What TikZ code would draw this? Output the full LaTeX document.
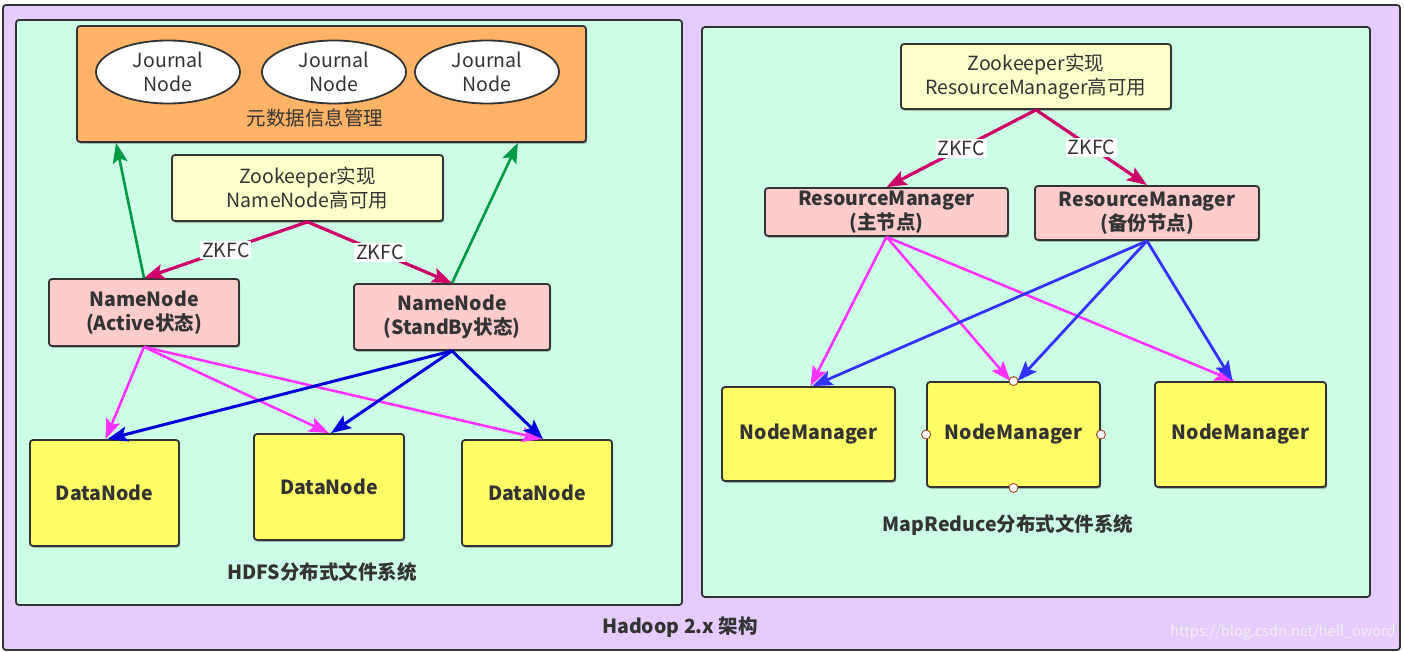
\documentclass[tikz,border=0pt]{standalone}
\usepackage{fontspec}
\setmainfont{Noto Sans CJK SC}
\usetikzlibrary{arrows.meta,shapes.geometric,calc,shadows}
\definecolor{lav}{HTML}{E5CCFF}
\definecolor{mint}{HTML}{CCFFE6}
\definecolor{orng}{HTML}{FFB366}
\definecolor{pinkfill}{HTML}{FFCCCC}
\definecolor{yel}{HTML}{FFFF66}
\definecolor{lyel}{HTML}{FFFFCC}
\definecolor{edge}{HTML}{333333}
\definecolor{txt}{HTML}{333333}
\definecolor{zkc}{HTML}{CC0066}
\definecolor{grn}{HTML}{009944}
\definecolor{mag}{HTML}{FF33FF}
\definecolor{blueL}{HTML}{0000DD}
\definecolor{blueR}{HTML}{3333FF}
\definecolor{handle}{HTML}{A04020}
\tikzset{
  box/.style={draw=edge, line width=1.8pt, rounded corners=3pt, inner sep=0pt,
    text=txt, align=center, font=\fontsize{19.5}{24}\selectfont,
    drop shadow={shadow xshift=1.2pt, shadow yshift=-1.6pt, opacity=0.4, fill=black}},
  bbox/.style={box, font=\bfseries\fontsize{19.5}{24}\selectfont},
  panel/.style={draw=edge, line width=1.8pt, rounded corners=3pt, inner sep=0pt},
  jn/.style={ellipse, draw=edge, line width=1.8pt, fill=white, inner sep=0pt,
    text=txt, align=center, font=\fontsize{19.5}{24}\selectfont,
    minimum width=144pt, minimum height=63pt},
  lbl/.style={text=txt, font=\fontsize{19.5}{24}\selectfont},
  blbl/.style={text=txt, font=\bfseries\fontsize{19.5}{24}\selectfont},
  tip/.style={-{Stealth[length=20pt,width=15pt,inset=4pt]}},
  zkarrow/.style={tip, draw=zkc, fill=zkc, line width=3.2pt},
  grarrow/.style={tip, draw=grn, line width=2.6pt},
  pkarrow/.style={tip, draw=mag, line width=2.6pt},
  blLarrow/.style={tip, draw=blueL, line width=3pt},
  blRarrow/.style={tip, draw=blueR, line width=2.8pt},
  zklabel/.style={fill=white, inner sep=2pt, text=txt, font=\fontsize{19.5}{22}\selectfont},
  hnd/.style={circle, draw=handle, line width=0.9pt, fill=white, inner sep=0pt, minimum size=9pt}
}
\begin{document}
\begin{tikzpicture}[x=1pt,y=-1pt]
\useasboundingbox (0,0) rectangle (1404,652);
\fill[white] (0,0) rectangle (1404,652);
% frames
\node[panel, fill=lav, minimum width=1397pt, minimum height=645pt] (outer) at (701.5,327.5) {};
\node[panel, fill=mint, minimum width=666pt, minimum height=585pt] (hdfs) at (349,312.5) {};
\node[panel, fill=mint, minimum width=668pt, minimum height=570pt] (mr) at (1036,312) {};
% HDFS side
\node[box, fill=orng, minimum width=509pt, minimum height=116pt] (meta) at (331.5,84) {};
\node[jn] (jn1) at (168,72) {Journal\\Node};
\node[jn] (jn2) at (334,72) {Journal\\Node};
\node[jn] (jn3) at (487,72) {Journal\\Node};
\node[lbl] (metal) at (315,118) {元数据信息管理};
\node[box, fill=lyel, minimum width=271pt, minimum height=66pt] (zkl) at (307.5,188) {Zookeeper实现\\NameNode高可用};
\node[bbox, fill=pinkfill, minimum width=190pt, minimum height=67pt] (nna) at (144,312.5) {NameNode\\(Active状态)};
\node[bbox, fill=pinkfill, minimum width=196pt, minimum height=66pt] (nnb) at (452,317) {NameNode\\(StandBy状态)};
\node[bbox, fill=yel, minimum width=149pt, minimum height=106pt] (dn1) at (104.5,493) {DataNode};
\node[bbox, fill=yel, minimum width=150pt, minimum height=106pt] (dn2) at (329,487) {DataNode};
\node[bbox, fill=yel, minimum width=150pt, minimum height=106pt] (dn3) at (537,493) {DataNode};
\node[blbl] (hdfsl) at (322,572) {HDFS分布式文件系统};
% HDFS arrows
\draw[zkarrow] (zkl.south) -- node[zklabel] (zk1) {ZKFC} (nna.north);
\draw[zkarrow] (zkl.south) -- node[zklabel] (zk2) {ZKFC} (nnb.north);
\draw[grarrow] (nna.north) -- ($(meta.south west)+(40,0)$);
\draw[grarrow] (nnb.north) -- ($(meta.south east)+(-69,0)$);
\draw[pkarrow] (nna.south) -- ($(dn1.north)+(1,0)$);
\draw[pkarrow] (nna.south) -- ($(dn2.north)+(0,0)$);
\draw[pkarrow] (nna.south) -- ($(dn3.north)+(5,0)$);
\draw[blLarrow] (nnb.south) -- ($(dn1.north)+(3,0)$);
\draw[blLarrow] (nnb.south) -- ($(dn2.north)+(2,0)$);
\draw[blLarrow] (nnb.south) -- ($(dn3.north)+(6,0)$);
% MapReduce side
\node[box, fill=lyel, minimum width=270pt, minimum height=65pt] (zkr) at (1036,76.5) {Zookeeper实现\\ResourceManager高可用};
\node[bbox, fill=pinkfill, minimum width=243pt, minimum height=48pt] (rmm) at (886.5,212) {ResourceManager\\(主节点)};
\node[bbox, fill=pinkfill, minimum width=224pt, minimum height=54pt] (rmb) at (1147,213) {ResourceManager\\(备份节点)};
\node[bbox, fill=yel, minimum width=173pt, minimum height=94pt] (nm1) at (808.5,434) {NodeManager};
\node[bbox, fill=yel, minimum width=173pt, minimum height=105pt] (nm2) at (1013.5,434.5) {NodeManager};
\node[bbox, fill=yel, minimum width=171pt, minimum height=105pt] (nm3) at (1240.5,434.5) {NodeManager};
\node[blbl] (mrl) at (1008,525) {MapReduce分布式文件系统};
\draw[zkarrow] (zkr.south) -- node[zklabel] (zk3) {ZKFC} (rmm.north);
\draw[zkarrow] (zkr.south) -- node[zklabel] (zk4) {ZKFC} (rmb.north);
\draw[pkarrow] (rmm.south) -- ($(nm1.north)+(2,0)$);
\draw[pkarrow] (rmm.south) -- ($(nm2.north)+(-3,0)$);
\draw[pkarrow] (rmm.south) -- ($(nm3.north)+(-6,0)$);
\draw[blRarrow] (rmb.south) -- ($(nm1.north)+(4,0)$);
\draw[blRarrow] (rmb.south) -- ($(nm2.north)+(4,0)$);
\draw[blRarrow] (rmb.south) -- ($(nm3.north)+(-8,0)$);
\node[hnd] (h1) at (nm2.north) {};
\node[hnd] (h2) at (nm2.south) {};
\node[hnd] (h3) at (nm2.west) {};
\node[hnd] (h4) at (nm2.east) {};
% titles
\node[blbl] (title) at (680,627) {Hadoop 2.x 架构};
\node[text=white!88!gray, font=\fontsize{14.5}{16}\selectfont] (wm) at (1283,633) {https://blog.csdn.net/hell\_oword};
\end{tikzpicture}
\end{document}
